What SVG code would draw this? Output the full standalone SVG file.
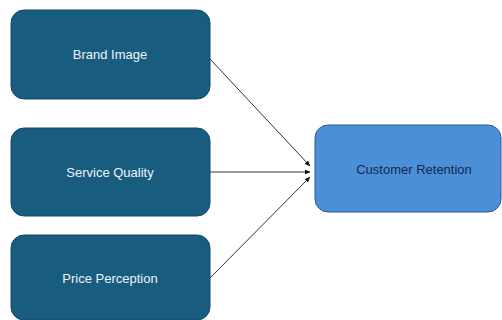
<svg xmlns="http://www.w3.org/2000/svg" width="502" height="320" viewBox="0 0 502 320">
<defs>
<style>
.dark{fill:#185d80;stroke:#124a68;stroke-width:1}
.light{fill:#4b8fd8;stroke:#2e5c8c;stroke-width:1}
.t1{font-family:"Liberation Sans",Arial,sans-serif;font-size:13px;fill:#eef3f6;text-anchor:middle;dominant-baseline:central}
.t2{font-family:"Liberation Sans",Arial,sans-serif;font-size:13px;fill:#142a4a;text-anchor:middle;dominant-baseline:central}
.c{stroke:#333;stroke-width:1;fill:none;marker-end:url(#ah)}
</style>
<marker id="ah" viewBox="0 0 10 10" refX="9" refY="5" markerWidth="6" markerHeight="6" orient="auto" markerUnits="userSpaceOnUse">
<path d="M0,1 L10,5 L0,9 z" fill="#111"/>
</marker>
</defs>
<rect width="502" height="320" fill="#fff"/>
<g id="connectors">
<line class="c" x1="210" y1="59" x2="310" y2="166"/>
<line class="c" x1="210" y1="172" x2="310" y2="172"/>
<line class="c" x1="210" y1="278" x2="310" y2="177"/>
</g>
<g id="brand-image">
<rect class="dark" x="11" y="10" width="199" height="89" rx="13"/>
<text class="t1" x="110" y="54">Brand Image</text>
</g>
<g id="service-quality">
<rect class="dark" x="11" y="128" width="199" height="88" rx="13"/>
<text class="t1" x="110" y="172">Service Quality</text>
</g>
<g id="price-perception">
<rect class="dark" x="11" y="235" width="199" height="85" rx="13"/>
<text class="t1" x="110" y="278">Price Perception</text>
</g>
<g id="customer-retention">
<rect class="light" x="315" y="125" width="186" height="87" rx="13"/>
<text class="t2" x="414" y="169">Customer Retention</text>
</g>
</svg>
